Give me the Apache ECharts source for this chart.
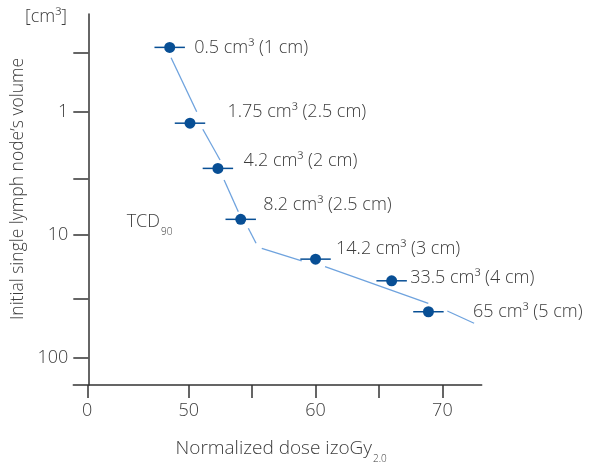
<!DOCTYPE html>
<html>
<head>
<meta charset="utf-8">
<script src="https://cdn.jsdelivr.net/npm/echarts@6/dist/echarts.min.js"></script>
<style>
  html, body { margin: 0; padding: 0; background: #ffffff; }
  #chart { width: 595px; height: 466px; }
</style>
</head>
<body>
<div id="chart"></div>
<script>
// ---- data ----
const pointLabels = ['0.5 cm³ (1 cm)', '1.75 cm³ (2.5 cm)', '4.2 cm³ (2 cm)', '8.2 cm³ (2.5 cm)', '14.2 cm³ (3 cm)', '33.5 cm³ (4 cm)', '65 cm³ (5 cm)'];
const doseValues = [48.5, 50.1, 52.3, 54.1, 60.0, 66.0, 68.9];      // normalized dose (izoGy2.0)
const volumeValues = [0.30, 1.24, 2.89, 7.5, 15.8, 23.7, 42.3];     // plotted volume position (cm3)
const doseError = [1.2, 1.2, 1.2, 1.2, 1.2, 1.2, 1.2];             // horizontal error half-width
// trend line pieces (dose, volume) - drawn with gaps
const trendSegments = [
  [[48.61, 0.364], [50.63, 1.0]],
  [[51.11, 1.39], [52.47, 2.47]],
  [[52.79, 3.59], [53.91, 6.50]],
  [[54.70, 8.87], [55.31, 11.75]],
  [[55.76, 12.90], [58.91, 16.36]],
  [[60.75, 18.2], [68.89, 36.1]],
  [[70.39, 41.7], [72.50, 52.5]]
];
const xTickValues = [42, 50, 55, 60, 65, 70];   // 42 stands for the broken-axis "0"
const xLabelValues = [42, 50, 60, 70];
const xBreakValue = 42;
const yTickVolumes = [0.33, 1, 3.5, 10, 33, 100];
const yLabelVolumes = [1, 10, 100];

// ---- layout / style ----
const textColor = '#3c3c3c';
const fontFamily = '"Open Sans", "Noto Sans", sans-serif';
const fontWeight = 300;
const axisColor = '#333333';
const dotColor = '#084f95';
const trendColor = '#6fa3de';
const labelOffsets = [[19, 0], [32, -11], [20, -8], [17, -14], [15, -10], [13, -3], [39, 0]];

const lg = v => Math.log10(v);

const chart = echarts.init(document.getElementById('chart'), null, { renderer: 'canvas' });

const series = [];
trendSegments.forEach(seg => {
  series.push({
    type: 'line',
    data: seg.map(p => [p[0], lg(p[1])]),
    symbol: 'none',
    silent: true,
    lineStyle: { color: trendColor, width: 1.3 },
    z: 1
  });
});
series.push({
  type: 'custom',
  silent: true,
  z: 2,
  data: doseValues.map((d, i) => [d, lg(volumeValues[i]), doseError[i]]),
  renderItem: (params, api) => {
    const y = api.value(1);
    const p1 = api.coord([api.value(0) - api.value(2), y]);
    const p2 = api.coord([api.value(0) + api.value(2), y]);
    return {
      type: 'line',
      shape: { x1: p1[0], y1: p1[1], x2: p2[0], y2: p2[1] },
      style: { stroke: dotColor, lineWidth: 1.5 }
    };
  }
});
series.push({
  type: 'scatter',
  z: 3,
  symbol: 'circle',
  symbolSize: 11,
  itemStyle: { color: dotColor, opacity: 1 },
  data: doseValues.map((d, i) => ({
    value: [d, lg(volumeValues[i])],
    label: { offset: labelOffsets[i] }
  })),
  label: {
    show: true,
    position: 'right',
    distance: 0,
    formatter: p => pointLabels[p.dataIndex],
    color: textColor,
    fontSize: 18,
    fontWeight: fontWeight,
    fontFamily: fontFamily
  }
});

const option = {
  animation: false,
  backgroundColor: '#ffffff',
  grid: { left: 73.3, right: 113.3, top: 14, bottom: 81, containLabel: false },
  xAxis: {
    type: 'value',
    min: 40.9,
    max: 73.1,
    axisLine: { show: true, onZero: false, lineStyle: { color: axisColor, width: 1.5 } },
    axisTick: { show: true, length: 13, customValues: xTickValues, lineStyle: { color: axisColor, width: 1.5 } },
    axisLabel: {
      customValues: xLabelValues,
      formatter: v => (Math.abs(v - xBreakValue) < 1e-6 ? '0' : String(v)),
      margin: 17,
      color: textColor,
      fontSize: 18,
      fontWeight: fontWeight,
      fontFamily: fontFamily
    },
    splitLine: { show: false }
  },
  yAxis: {
    type: 'value',
    inverse: true,
    min: lg(0.1606),
    max: lg(166.7),
    offset: -15,
    axisLine: { show: true, onZero: false, lineStyle: { color: axisColor, width: 1.5 } },
    axisTick: { show: true, length: 15, customValues: yTickVolumes.map(lg), lineStyle: { color: axisColor, width: 1.5 } },
    axisLabel: {
      customValues: yLabelVolumes.map(lg),
      formatter: v => String(Math.round(Math.pow(10, v))),
      margin: 20,
      color: textColor,
      fontSize: 18,
      fontWeight: fontWeight,
      fontFamily: fontFamily
    },
    splitLine: { show: false }
  },
  graphic: [
    { type: 'text', left: 25, top: 8, style: { text: '[cm³]', fill: textColor, fontSize: 18, fontWeight: fontWeight, fontFamily: fontFamily } },
    { type: 'text', x: 18, y: 189, rotation: Math.PI / 2,
      style: { text: 'Initial single lymph node’s volume', fill: textColor, fontSize: 17.5, fontWeight: fontWeight, fontFamily: fontFamily, align: 'center', verticalAlign: 'middle' } },
    { type: 'text', x: 160, y: 222, style: { text: 'TCD', fill: textColor, fontSize: 18, fontWeight: fontWeight, fontFamily: fontFamily, align: 'right', verticalAlign: 'middle' } },
    { type: 'text', x: 161, y: 232, style: { text: '90', fill: textColor, fontSize: 10, fontWeight: fontWeight, fontFamily: fontFamily, align: 'left', verticalAlign: 'middle' } },
    { type: 'text', x: 372, y: 449, style: { text: 'Normalized dose izoGy', fill: textColor, fontSize: 19, fontWeight: fontWeight, fontFamily: fontFamily, align: 'right', verticalAlign: 'middle' } },
    { type: 'text', x: 373, y: 459, style: { text: '2.0', fill: textColor, fontSize: 10, fontWeight: fontWeight, fontFamily: fontFamily, align: 'left', verticalAlign: 'middle' } }
  ],
  series: series
};
chart.setOption(option);
</script>
</body>
</html>
